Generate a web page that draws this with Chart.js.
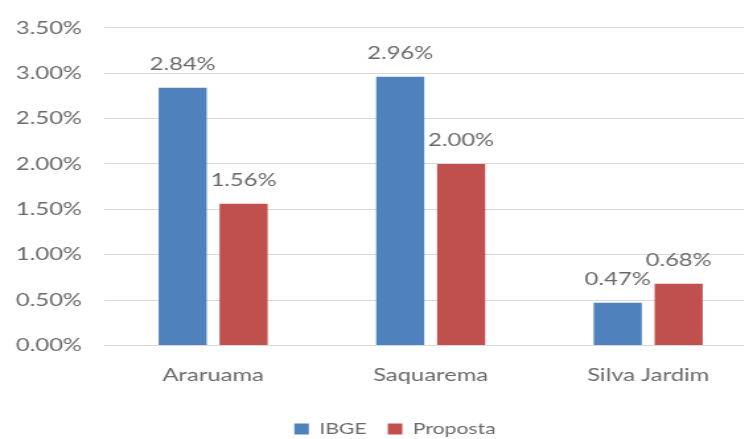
<!DOCTYPE html>
<html>
<head>
<meta charset="utf-8">
<script src="https://cdn.jsdelivr.net/npm/chart.js@4/dist/chart.umd.min.js"></script>
<style>
  html, body { margin: 0; padding: 0; background: #fff; overflow: hidden; }
  /* the reference looks stretched sideways, so the canvas is drawn narrow and widened by css */
  #chart { width: 790px; height: 439px; display: block; }
</style>
</head>
<body>
<canvas id="chart" width="598" height="439" style="width:790px;height:439px"></canvas>
<script>
// chart data
var cidades = ['Araruama', 'Saquarema', 'Silva Jardim'];
var ibge = [2.84, 2.96, 0.47];
var proposta = [1.56, 2.00, 0.68];
var yTicks = [0, 0.5, 1, 1.5, 2, 2.5, 3, 3.5];

var textColor = '#6a6a6a';
var fontFamily = 'Lato, "Open Sans", sans-serif';

function pct(v) {
  return v.toFixed(2) + '%';
}

// draws the value over each bar, like the excel labels
var valueLabels = {
  id: 'valueLabels',
  afterDatasetsDraw: function(chart) {
    var ctx = chart.ctx;
    ctx.save();
    ctx.fillStyle = textColor;
    ctx.font = '18px ' + fontFamily;
    ctx.textAlign = 'center';
    ctx.textBaseline = 'middle';
    chart.data.datasets.forEach(function(ds, i) {
      var meta = chart.getDatasetMeta(i);
      meta.data.forEach(function(bar, j) {
        ctx.fillText(pct(ds.data[j]), bar.x, bar.y - 24);
      });
    });
    ctx.restore();
  }
};

// legend box spans the whole canvas so it centres like excel does
var legendFullWidth = {
  id: 'legendFullWidth',
  afterLayout: function(chart) {
    var l = chart.legend;
    if (!l) return;
    l.left = 0;
    l.right = chart.width;
    l.width = chart.width;
  }
};

new Chart(document.getElementById('chart'), {
  type: 'bar',
  data: {
    labels: cidades,
    datasets: [
      { label: 'IBGE', data: ibge, backgroundColor: '#4F81BD' },
      { label: 'Proposta', data: proposta, backgroundColor: '#C0504D' }
    ]
  },
  options: {
    responsive: false,
    animation: false,
    devicePixelRatio: 1,
    layout: { padding: { top: 12, right: 25, bottom: -8, left: 0 } },
    datasets: {
      bar: { categoryPercentage: 0.56, barPercentage: 0.79 }
    },
    plugins: {
      tooltip: { enabled: false },
      legend: {
        position: 'bottom',
        labels: {
          color: textColor,
          font: { family: fontFamily, size: 16 },
          usePointStyle: true,
          pointStyle: 'rect',
          boxWidth: 11,
          boxHeight: 11,
          padding: 16
        }
      }
    },
    scales: {
      x: {
        grid: { display: false, drawTicks: false },
        border: { color: '#d9d9d9' },
        ticks: { color: textColor, font: { family: fontFamily, size: 18 }, padding: 19 }
      },
      y: {
        min: 0,
        max: 3.5,
        afterBuildTicks: function(scale) {
          scale.ticks = yTicks.map(function(v) { return { value: v }; });
        },
        afterFit: function(scale) { scale.width = 79; },
        grid: { color: '#d9d9d9', drawTicks: false },
        border: { display: false },
        ticks: {
          color: textColor,
          font: { family: fontFamily, size: 18 },
          padding: 17,
          callback: function(v) { return pct(v); }
        }
      }
    }
  },
  plugins: [valueLabels, legendFullWidth]
});
</script>
</body>
</html>
